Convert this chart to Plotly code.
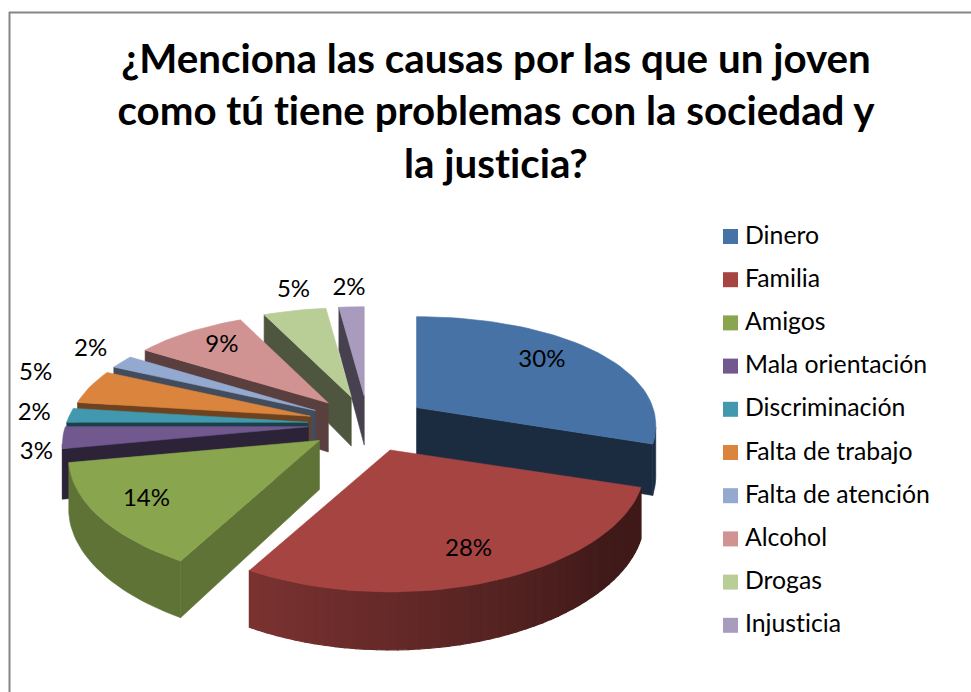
"""Exploded pseudo-3D pie of causes, drawn as filled polygons on hidden axes."""

import numpy as np
import plotly.graph_objects as go

TITLE = "¿Menciona las causas por las que un joven<br>como tú tiene problemas con la sociedad y<br>la justicia?"
categories = ['Dinero', 'Familia', 'Amigos', 'Mala orientación', 'Discriminación',
              'Falta de trabajo', 'Falta de atención', 'Alcohol', 'Drogas', 'Injusticia']
percent = [30, 28, 14, 3, 2, 5, 2, 9, 5, 2]

colors = ['#4672a6', '#a64442', '#89a54e', '#71588f', '#4198af',
          '#db843d', '#93a9cf', '#d19392', '#b9cd96', '#a99bbd']
wall_shade = [0.39, 0.4, 0.7, 0.4, 0.42, 0.5, 0.45, 0.43, 0.42, 0.42]
label_radius = [0.76, 0.75, 0.76, 1.108, 1.148, 1.256, 1.176, 0.8, 1.23, 1.2]
label_dx = [-8, -3, -5, 0, 0, 2, 3, 5, 12, 0]
label_dy = [-3, 3, 2, 14, 0, -5, -3, 0, 0, 0]
draw_order = [9, 8, 7, 6, 5, 4, 3, 2, 0, 1]  # back to front

FONT = 'Lato'
CENTER_X, CENTER_Y = 368, 424
EXPLODE_X, EXPLODE_Y = 60, 28
RADIUS_X, RADIUS_Y, TILT, PERSP = 242, 238, 0.478, 4.5
NEAR_GROWTH = 0.04
DEPTH = 49


def shade(hex_color, factor):
    r, g, b = (int(hex_color[i:i + 2], 16) for i in (1, 3, 5))
    return f'rgb({r * factor:.0f},{g * factor:.0f},{b * factor:.0f})'


def slice_apex(mid_deg):
    m = np.radians(mid_deg)
    return (CENTER_X + EXPLODE_X * np.sin(m), CENTER_Y - EXPLODE_Y * np.cos(m))


def rim_point(apex, mid_deg, theta):
    """Screen position of the rim at theta (degrees clockwise from the top), with the wall depth."""
    t = np.radians(theta)
    sx, cy = np.sin(t), -np.cos(t)
    p = PERSP / (PERSP - cy)
    grow = 1 - NEAR_GROWTH * np.cos(np.radians(mid_deg))  # nearer slices come out slightly bigger
    squash = 1 - 0.03 * max(cy, 0)
    return (apex[0] + sx * p ** 0.7 * RADIUS_X * grow,
            apex[1] + cy * TILT * p * RADIUS_Y * min(grow, 1) * squash,
            DEPTH * p ** 0.67)


def poly(xs, ys, color, width=0.6):
    return go.Scatter(x=list(xs) + [xs[0]], y=list(ys) + [ys[0]], mode='lines', fill='toself',
                      fillcolor=color, line=dict(color=color, width=width),
                      hoverinfo='skip', showlegend=False)


def is_front(p, q):
    # quad p -> q -> q' -> p', negative area means it faces the viewer
    quad = [(p[0], p[1]), (q[0], q[1]), (q[0], q[1] + q[2]), (p[0], p[1] + p[2])]
    area = sum(quad[i][0] * quad[(i + 1) % 4][1] - quad[(i + 1) % 4][0] * quad[i][1] for i in range(4))
    return area < 0


fig = go.Figure()

edges = np.concatenate([[0], np.cumsum(percent)]) * 3.6
for i in draw_order:
    start, end = edges[i], edges[i + 1]
    mid = (start + end) / 2
    apex = slice_apex(mid)
    thetas = np.linspace(start, end, max(4, int(end - start) // 2 + 1))
    rim = [rim_point(apex, mid, t) for t in thetas]
    outline = [(apex[0], apex[1], DEPTH)] + rim

    # the two straight walls
    for a, b in [(outline[0], rim[0]), (rim[-1], outline[0])]:
        if is_front(a, b):
            fig.add_trace(poly([a[0], b[0], b[0], a[0]],
                               [a[1], b[1], b[1] + b[2], a[1] + a[2]],
                               shade(colors[i], wall_shade[i])))

    # curved wall: one polygon, except Familia which fades along its rim
    visible = [(rim[k], rim[k + 1], (thetas[k] + thetas[k + 1]) / 2)
               for k in range(len(rim) - 1) if is_front(rim[k], rim[k + 1])]
    if i == 1:
        for a, b, t in visible:
            factor = np.interp(t, [130, 208.8], [0.38, 0.74])
            fig.add_trace(poly([a[0], b[0], b[0], a[0]],
                               [a[1], b[1], b[1] + b[2], a[1] + a[2]],
                               shade(colors[i], factor), width=1.2))
    elif visible:
        pts = [visible[0][0]] + [v[1] for v in visible]
        fig.add_trace(poly([p[0] for p in pts] + [p[0] for p in reversed(pts)],
                           [p[1] for p in pts] + [p[1] + p[2] for p in reversed(pts)],
                           shade(colors[i], wall_shade[i])))

    fig.add_trace(poly([o[0] for o in outline], [o[1] for o in outline], colors[i]))

# percentage labels
for i in range(len(percent)):
    mid = (edges[i] + edges[i + 1]) / 2
    apex = slice_apex(mid)
    rx, ry, _ = rim_point(apex, mid, mid)
    fig.add_trace(go.Scatter(x=[apex[0] + (rx - apex[0]) * label_radius[i] + label_dx[i]],
                             y=[apex[1] + (ry - apex[1]) * label_radius[i] + label_dy[i]],
                             mode='text', text=[f'{percent[i]}%'],
                             textfont=dict(family=FONT, size=24, color='black'),
                             hoverinfo='skip', showlegend=False))

# legend column
legend_y = [236.5 + n * 43.2 for n in range(len(categories))]
fig.add_trace(go.Scatter(x=[730.5] * len(categories), y=legend_y, mode='markers',
                         marker=dict(symbol='square', size=15, color=colors),
                         hoverinfo='skip', showlegend=False))
fig.add_trace(go.Scatter(x=[745] * len(categories), y=[y + 1 for y in legend_y], mode='text',
                         text=categories, textposition='middle right',
                         textfont=dict(family=FONT, size=24.8, color='black'),
                         hoverinfo='skip', showlegend=False))

fig.add_shape(type='line', x0=9.5, x1=9.5, y0=12, y1=692, line=dict(color='#868686', width=2))
fig.add_shape(type='line', x0=9, x1=971, y0=12.5, y1=12.5, line=dict(color='#868686', width=2))

fig.update_layout(
    width=971, height=692,
    margin=dict(l=0, r=0, t=0, b=0),
    paper_bgcolor='white', plot_bgcolor='white',
    title=dict(text=TITLE, x=496 / 971, xanchor='center', y=0.8945, yanchor='middle',
               font=dict(family=FONT, size=40.3, color='black', weight='bold')),
    xaxis=dict(range=[0, 971], visible=False, fixedrange=True),
    yaxis=dict(range=[692, 0], visible=False, fixedrange=True),
)

no_ligatures = ("document.body.style.margin='0';"
                "var s=document.createElement('style');"
                "s.textContent='text{font-variant-ligatures:none !important;font-feature-settings:\"liga\" 0 !important}';"
                "document.head.appendChild(s);")
fig.write_html("out.html", config={'displayModeBar': False}, post_script=no_ligatures)
